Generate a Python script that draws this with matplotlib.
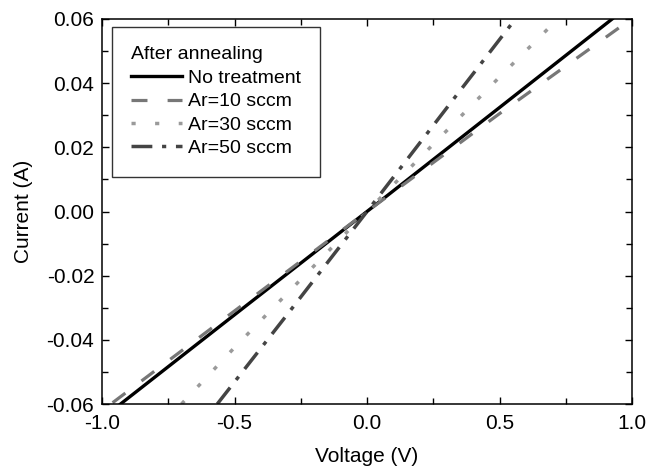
import matplotlib
matplotlib.use("Agg")
import matplotlib.pyplot as plt
from matplotlib.ticker import MultipleLocator

plt.rcParams["font.family"] = ["Liberation Sans", "DejaVu Sans"]
plt.rcParams["lines.scale_dashes"] = False

# I-V curves (voltage in V, current in A)
v_none = [-0.93, -0.5, 0.0, 0.5, 0.925]
i_none = [-0.06, -0.0322, 0.0, 0.0324, 0.06]

v_ar10 = [-0.96, -0.5, 0.0, 0.5, 0.95]
i_ar10 = [-0.0596, -0.031, 0.0, 0.0305, 0.0572]

v_ar30 = [-0.70, -0.5, 0.0, 0.5, 0.72]
i_ar30 = [-0.06, -0.0424, 0.0, 0.0419, 0.06]

v_ar50 = [-0.565, -0.3, 0.0, 0.33, 0.56]
i_ar50 = [-0.06, -0.032, 0.0, 0.0354, 0.06]

labels = ["No treatment", "Ar=10 sccm", "Ar=30 sccm", "Ar=50 sccm"]

FS = 15
LFS = 14

fig = plt.figure(figsize=(6.56, 4.74), dpi=100)
ax = fig.add_axes([102/656, 1-404/474, 530/656, 385/474])

ax.plot(v_none, i_none, color="black", lw=2.4, label=labels[0])
ax.plot(v_ar10, i_ar10, color="#777777", lw=2.3, dashes=(11.5, 14.5), label=labels[1])
ax.plot(v_ar30, i_ar30, color="#9a9a9a", lw=2.5, dashes=(3, 14), label=labels[2])
ax.plot(v_ar50, i_ar50, color="#444444", lw=2.5, dashes=(15, 7, 3, 7), label=labels[3])

ax.set_xlim(-1.0, 1.0)
ax.set_ylim(-0.06, 0.06)
ax.xaxis.set_major_locator(MultipleLocator(0.5))
ax.xaxis.set_minor_locator(MultipleLocator(0.25))
ax.yaxis.set_major_locator(MultipleLocator(0.02))
ax.yaxis.set_minor_locator(MultipleLocator(0.01))
ax.xaxis.set_major_formatter(plt.FormatStrFormatter("%.1f"))
ax.yaxis.set_major_formatter(plt.FormatStrFormatter("%.2f"))

ax.tick_params(which="both", direction="in", top=True, right=True, width=1, labelsize=FS)
ax.tick_params(which="major", length=5)
ax.tick_params(which="minor", length=4)
ax.tick_params(axis="x", pad=7)
ax.tick_params(axis="y", pad=5.5)
for s in ax.spines.values():
    s.set_linewidth(1.1)

ax.set_xlabel("Voltage (V)", fontsize=FS, labelpad=10)
ax.set_ylabel("Current (A)", fontsize=FS, labelpad=10)

leg = ax.legend(title="After annealing", loc="upper left",
                bbox_to_anchor=(10/530, 1-8/385), borderaxespad=0,
                fontsize=LFS, title_fontsize=LFS, fancybox=False,
                edgecolor="#333333", framealpha=1, handlelength=2.6,
                handletextpad=0.3, labelspacing=0.3, borderpad=1.0)
leg._legend_box.align = "left"
leg.get_frame().set_linewidth(1.0)

fig.savefig("out.png", dpi=100)
